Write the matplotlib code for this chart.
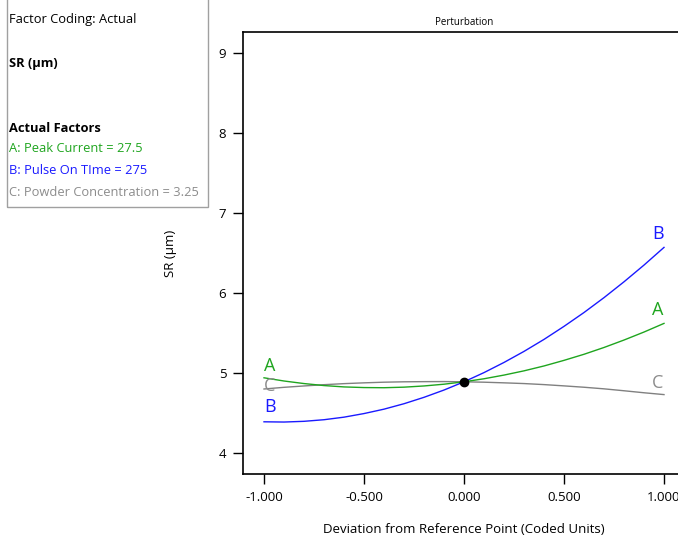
import numpy as np
import matplotlib.pyplot as plt
from matplotlib.patches import Rectangle

plt.rcParams['font.family'] = ['Open Sans', 'DejaVu Sans']

# deviation from reference point (coded units)
deviation = [-1.0, -0.9, -0.8, -0.7, -0.6, -0.5, -0.4, -0.3, -0.2, -0.1, 0.0,
             0.1, 0.2, 0.3, 0.4, 0.5, 0.6, 0.7, 0.8, 0.9, 1.0]

# predicted SR (um) along each factor
srA = [4.940, 4.900, 4.868, 4.843, 4.826, 4.818, 4.816, 4.823, 4.838, 4.860, 4.890,
       4.928, 4.974, 5.027, 5.088, 5.158, 5.234, 5.319, 5.412, 5.512, 5.620]
srB = [4.390, 4.387, 4.396, 4.416, 4.448, 4.493, 4.548, 4.616, 4.696, 4.787, 4.890,
       5.005, 5.132, 5.270, 5.420, 5.583, 5.756, 5.942, 6.140, 6.349, 6.570]
srC = [4.800, 4.821, 4.838, 4.854, 4.867, 4.877, 4.885, 4.890, 4.892, 4.893, 4.890,
       4.885, 4.877, 4.868, 4.855, 4.839, 4.822, 4.802, 4.778, 4.753, 4.730]

refPoint = 4.89

xTicks = [-1.0, -0.5, 0.0, 0.5, 1.0]
yTicks = [4, 5, 6, 7, 8, 9]

green = '#1fa51f'
blue = '#1a1aff'
grey = '#8c8c8c'

W, H = 678, 539
fig = plt.figure(figsize=(W / 100, H / 100), dpi=100)

def px(x, y):
    return x / W, 1 - y / H

ax = fig.add_axes([243 / W, 1 - 474 / H, (685 - 243) / W, (474 - 32) / H])

ax.plot(deviation, srC, color='#808080', lw=1.0)
ax.plot(deviation, srA, color=green, lw=1.0)
ax.plot(deviation, srB, color=blue, lw=1.0)
ax.plot([0], [refPoint], 'o', color='black', ms=6)

# letters at both ends of each curve
ax.text(-0.97, srA[0] + 0.03, 'A', color=green, fontsize=13, ha='center', va='bottom')
ax.text(-0.97, srC[0] + 0.04, 'C', color=grey, fontsize=13, ha='center', va='center')
ax.text(-0.97, srB[0] + 0.07, 'B', color=blue, fontsize=13, ha='center', va='bottom')
ax.text(0.97, srB[-1] + 0.06, 'B', color=blue, fontsize=13, ha='center', va='bottom')
ax.text(0.97, srA[-1] + 0.06, 'A', color=green, fontsize=13, ha='center', va='bottom')
ax.text(0.97, srC[-1] + 0.03, 'C', color=grey, fontsize=13, ha='center', va='bottom')

ax.set_xlim(-1.105, 1.105)
ax.set_ylim(3.7375, 9.2625)
ax.set_xticks(xTicks)
ax.set_xticklabels(['%.3f' % t for t in xTicks])
ax.set_yticks(yTicks)
ax.tick_params(direction='out', length=7, width=1.0, labelsize=9.5, pad=5)
for s in ['left', 'bottom', 'top']:
    ax.spines[s].set_linewidth(1.2)
ax.spines['right'].set_visible(False)

ax.set_title('Perturbation', fontsize=7, pad=5)
ax.set_xlabel('Deviation from Reference Point (Coded Units)', fontsize=9.5, labelpad=14)
ax.set_ylabel('SR (\u00b5m)', fontsize=9.5, labelpad=30)

# factor info box
fig.patches.append(Rectangle(px(7, 207), 201 / W, 210 / H, transform=fig.transFigure,
                             fill=False, edgecolor='#a0a0a0', lw=1.0))
fig.text(*px(9, 20), 'Factor Coding: Actual', fontsize=9.3, va='center')
fig.text(*px(9, 63), 'SR (\u00b5m)', fontsize=9.3, fontweight='bold', va='center')
fig.text(*px(9, 128), 'Actual Factors', fontsize=9.3, fontweight='bold', va='center')
fig.text(*px(9, 149), 'A: Peak Current = 27.5', fontsize=9.3, color=green, va='center')
fig.text(*px(9, 171), 'B: Pulse On TIme = 275', fontsize=9.3, color=blue, va='center')
fig.text(*px(9, 192), 'C: Powder Concentration = 3.25', fontsize=9.3, color=grey, va='center')

fig.savefig('out.png', dpi=100)
